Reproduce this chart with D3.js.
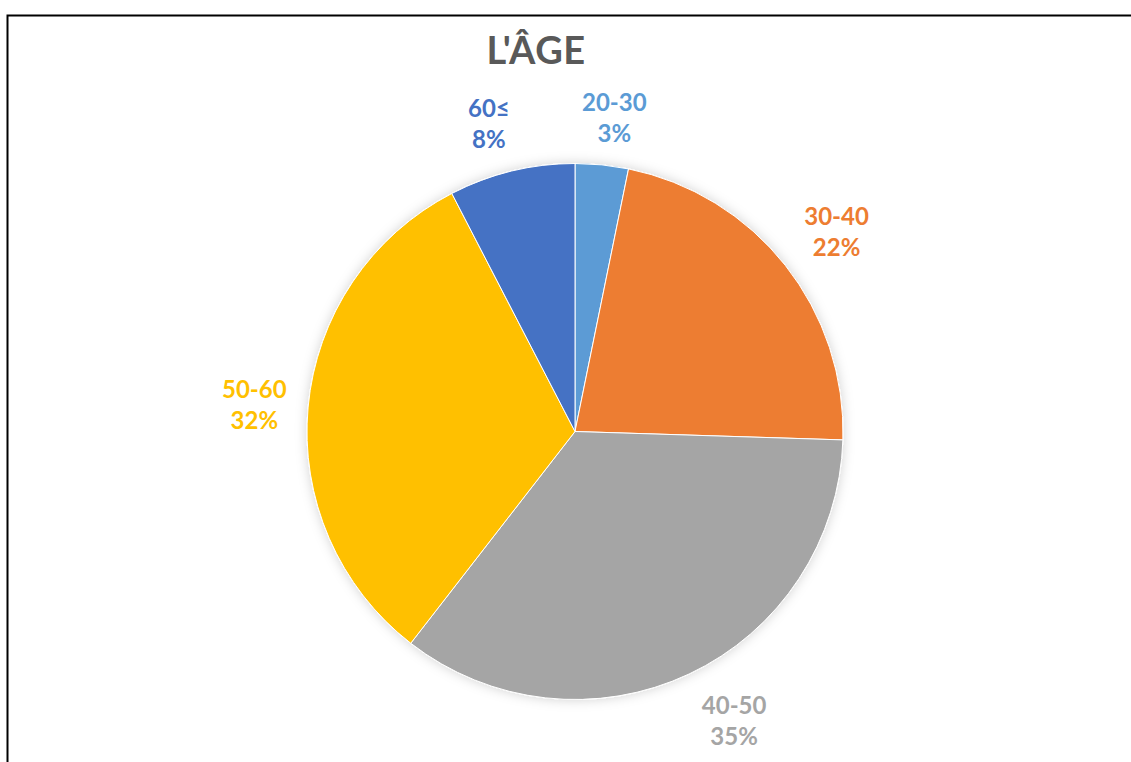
<!DOCTYPE html>
<html>
<head>
<meta charset="utf-8">
<script src="https://cdn.jsdelivr.net/npm/d3@7"></script>
<style>
    html, body { margin: 0; padding: 0; background: #ffffff; }
    svg { display: block; font-family: Lato, 'Open Sans', sans-serif; }
</style>
</head>
<body>
<div id="chart"></div>
<script>
// Age groups and their shares (in %)
const categories = ['20-30', '30-40', '40-50', '50-60', '60≤'];
const shares = [3.2, 22.3, 35.0, 31.9, 7.6];
const sliceColors = ['#5b9bd5', '#ed7d31', '#a5a5a5', '#ffc000', '#4472c4'];

const chartTitle = "L'ÂGE";

// small hand nudges to mimic Excel's best-fit label placement
const labelNudge = {
    '20-30': [7, 7],
    '30-40': [9, 0],
    '40-50': [22, -2],
    '50-60': [0, 3],
    '60≤': [-10, 5]
};

const width = 1131;
const height = 762;
const cx = 575;
const cy = 431.5;
const radius = 268;
const labelRadius = 322;

const svg = d3.select('#chart')
    .append('svg')
    .attr('width', width)
    .attr('height', height)
    .attr('viewBox', [0, 0, width, height]);

// frame (only top and left edges fall inside the picture)
svg.append('rect')
    .attr('x', 7.5)
    .attr('y', 15.5)
    .attr('width', width + 50)
    .attr('height', height + 50)
    .attr('fill', 'none')
    .attr('stroke', '#000')
    .attr('stroke-width', 2);

const defs = svg.append('defs');
const shadow = defs.append('filter')
    .attr('id', 'pie-shadow')
    .attr('x', '-20%').attr('y', '-20%')
    .attr('width', '140%').attr('height', '140%');
shadow.append('feDropShadow')
    .attr('dx', 0)
    .attr('dy', 0)
    .attr('stdDeviation', 6)
    .attr('flood-color', '#000')
    .attr('flood-opacity', 0.18);

svg.append('text')
    .attr('x', 536)
    .attr('y', 64)
    .attr('text-anchor', 'middle')
    .attr('fill', '#595959')
    .attr('font-size', 38)
    .attr('font-weight', 700)
    .attr('letter-spacing', 0.5)
    .text(chartTitle);

const data = categories.map((name, i) => ({ name, value: shares[i], color: sliceColors[i] }));
const total = d3.sum(shares);

const pie = d3.pie()
    .sort(null)
    .value((d) => d.value);

const arcs = pie(data);

const arc = d3.arc()
    .innerRadius(0)
    .outerRadius(radius);

const pieGroup = svg.append('g')
    .attr('transform', `translate(${cx},${cy})`);

pieGroup.append('g')
    .attr('filter', 'url(#pie-shadow)')
    .selectAll('path')
    .data(arcs)
    .join('path')
    .attr('d', arc)
    .attr('fill', (d) => d.data.color)
    .attr('stroke', '#ffffff')
    .attr('stroke-width', 1);

const labelArc = d3.arc()
    .innerRadius(labelRadius)
    .outerRadius(labelRadius);

const labels = pieGroup.append('g')
    .selectAll('text')
    .data(arcs)
    .join('text')
    .attr('text-anchor', 'middle')
    .attr('font-size', 24)
    .attr('font-weight', 700)
    .attr('fill', (d) => d.data.color)
    .attr('transform', (d) => {
        const [x, y] = labelArc.centroid(d);
        const [nx, ny] = labelNudge[d.data.name] || [0, 0];
        return `translate(${x + nx},${y + ny})`;
    });

labels.append('tspan')
    .attr('x', 0)
    .attr('y', -7)
    .text((d) => d.data.name);

labels.append('tspan')
    .attr('x', 0)
    .attr('y', 24)
    .text((d) => `${Math.round((d.data.value / total) * 100)}%`);
</script>
</body>
</html>
